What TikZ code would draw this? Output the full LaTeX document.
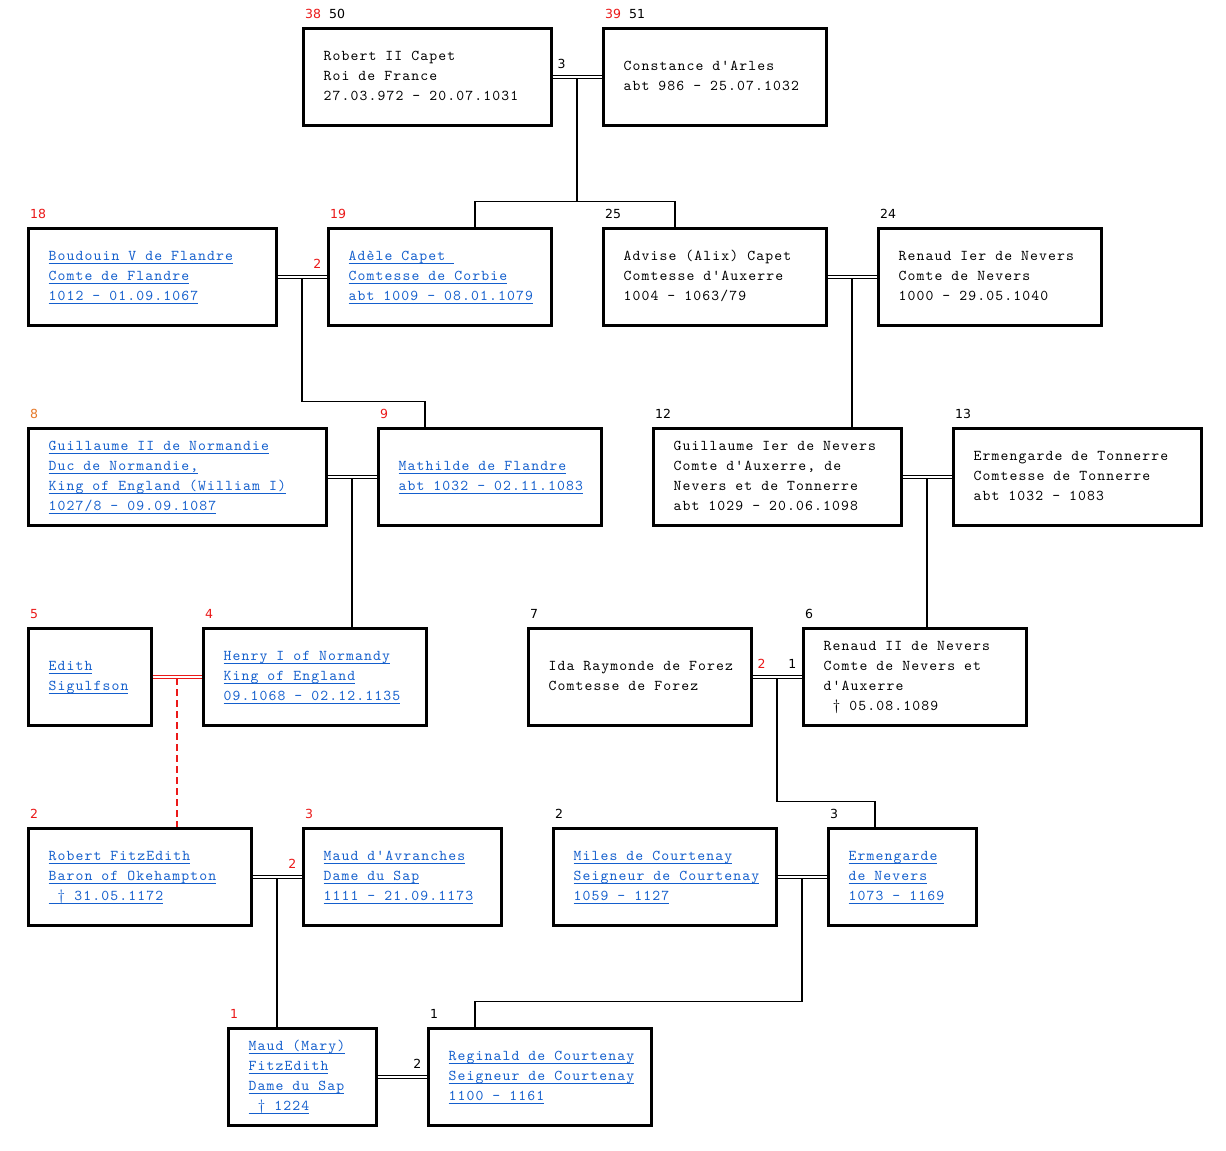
\documentclass[tikz,border=0pt]{standalone}
\usepackage{fontspec}
\newfontfamily\boxfont[LetterSpace=7.5]{lmmono10-regular.otf}
\newfontfamily\numfont{DejaVu Sans}
\definecolor{LinkBlue}{RGB}{20,95,205}
\definecolor{NumRed}{RGB}{235,25,25}
\definecolor{NumOrange}{RGB}{230,120,40}
\usetikzlibrary{calc}
\newcommand\pl[1]{\mbox{\spaceskip=9pt\relax\strut#1}}
\newcommand\lk[1]{\setbox0\hbox{\spaceskip=9pt\relax#1}\mbox{\strut\rlap{\color{LinkBlue}\copy0}\color{LinkBlue}\rule[-3.5pt]{\wd0}{0.9pt}}}
\newcommand\rn[1]{\textcolor{NumRed}{#1}}
\newcommand\on[1]{\textcolor{NumOrange}{#1}}
\tikzset{
  person/.style={draw, line width=3pt, rectangle, anchor=north west, align=left,
    inner xsep=20.5pt, inner ysep=0pt, minimum height=97pt,
    font=\boxfont\fontsize{15}{20}\selectfont},
  lbl/.style={font=\numfont\fontsize{12.5}{13}\selectfont, inner sep=0pt, anchor=base west},
  num/.style={font=\numfont\fontsize{12.5}{13}\selectfont, inner sep=0pt},
  wed/.style={double, double distance=2pt, line width=1pt},
  stem/.style={line width=1.6pt}
}
\begin{document}
\begin{tikzpicture}[x=1pt,y=-1pt]
  \path[fill=white,use as bounding box] (0,0) rectangle (1226,1151);
  % ancestors, top row
  \node[person, text width=207pt] (robert) at (301.5,26.5)
    {\pl{Robert II Capet}\\\pl{Roi de France}\\\pl{27.03.972 - 20.07.1031}};
  \node[person, text width=182pt] (constance) at (601.5,26.5)
    {\pl{Constance d'Arles}\\\pl{abt 986 - 25.07.1032}};
  % second row
  \node[person, text width=207pt] (boudouin) at (26.5,226.5)
    {\lk{Boudouin V de Flandre}\\\lk{Comte de Flandre}\\\lk{1012 - 01.09.1067}};
  \node[person, text width=182pt] (adele) at (326.5,226.5)
    {\lk{Adèle Capet }\\\lk{Comtesse de Corbie}\\\lk{abt 1009 - 08.01.1079}};
  \node[person, text width=182pt] (advise) at (601.5,226.5)
    {\pl{Advise (Alix) Capet}\\\pl{Comtesse d'Auxerre}\\\pl{1004 - 1063/79}};
  \node[person, text width=182pt] (renaud1) at (876.5,226.5)
    {\pl{Renaud Ier de Nevers}\\\pl{Comte de Nevers}\\\pl{1000 - 29.05.1040}};
  % third row
  \node[person, text width=257pt] (guill2) at (26.5,426.5)
    {\lk{Guillaume II de Normandie}\\\lk{Duc de Normandie,}\\\lk{King of England (William I)}\\\lk{1027/8 - 09.09.1087}};
  \node[person, text width=182pt] (mathilde) at (376.5,426.5)
    {\lk{Mathilde de Flandre}\\\lk{abt 1032 - 02.11.1083}};
  \node[person, text width=207pt] (guill1) at (651.5,426.5)
    {\pl{Guillaume Ier de Nevers}\\\pl{Comte d'Auxerre, de}\\\pl{Nevers et de Tonnerre}\\\pl{abt 1029 - 20.06.1098}};
  \node[person, text width=207pt] (ermtonn) at (951.5,426.5)
    {\pl{Ermengarde de Tonnerre}\\\pl{Comtesse de Tonnerre}\\\pl{abt 1032 - 1083}};
  % fourth row
  \node[person, text width=82pt] (edith) at (26.5,626.5)
    {\lk{Edith}\\\lk{Sigulfson}};
  \node[person, text width=182pt] (henry) at (201.5,626.5)
    {\lk{Henry I of Normandy}\\\lk{King of England}\\\lk{09.1068 - 02.12.1135}};
  \node[person, text width=182pt] (ida) at (526.5,626.5)
    {\pl{Ida Raymonde de Forez}\\\pl{Comtesse de Forez}};
  \node[person, text width=182pt] (renaud2) at (801.5,626.5)
    {\pl{Renaud II de Nevers}\\\pl{Comte de Nevers et}\\\pl{d'Auxerre}\\\pl{\ † 05.08.1089}};
  % fifth row
  \node[person, text width=182pt] (robfitz) at (26.5,826.5)
    {\lk{Robert FitzEdith}\\\lk{Baron of Okehampton}\\\lk{\ † 31.05.1172}};
  \node[person, text width=157pt] (maudavr) at (301.5,826.5)
    {\lk{Maud d'Avranches}\\\lk{Dame du Sap}\\\lk{1111 - 21.09.1173}};
  \node[person, text width=182pt] (miles) at (551.5,826.5)
    {\lk{Miles de Courtenay}\\\lk{Seigneur de Courtenay}\\\lk{1059 - 1127}};
  \node[person, text width=107pt] (ermnev) at (826.5,826.5)
    {\lk{Ermengarde}\\\lk{de Nevers}\\\lk{1073 - 1169}};
  % bottom row
  \node[person, text width=107pt] (maudmary) at (226.5,1026.5)
    {\lk{Maud (Mary)}\\\lk{FitzEdith}\\\lk{Dame du Sap}\\\lk{\ † 1224}};
  \node[person, text width=182pt] (reginald) at (426.5,1026.5)
    {\lk{Reginald de Courtenay}\\\lk{Seigneur de Courtenay}\\\lk{1100 - 1161}};

  % numbers above the boxes
  \foreach \p/\t in {robert/{\rn{38}\hspace{8pt}50}, constance/{\rn{39}\hspace{8pt}51}, boudouin/\rn{18},
      adele/\rn{19}, advise/25, renaud1/24, guill2/\on{8}, mathilde/\rn{9},
      guill1/12, ermtonn/13, edith/\rn{5}, henry/\rn{4}, ida/7, renaud2/6,
      robfitz/\rn{2}, maudavr/\rn{3}, miles/2, ermnev/3, maudmary/\rn{1}, reginald/1}
    \node[lbl] (n-\p) at ([xshift=3.5pt,yshift=8.5pt]\p.north west) {\t};

  % marriages
  \draw[wed] (robert) -- (constance);
  \draw[wed] (boudouin) -- (adele);
  \draw[wed] (advise) -- (renaud1);
  \draw[wed] (guill2) -- (mathilde);
  \draw[wed] (guill1) -- (ermtonn);
  \draw[wed, NumRed] (edith) -- (henry);
  \draw[wed] (ida) -- (renaud2);
  \draw[wed] (robfitz) -- (maudavr);
  \draw[wed] (miles) -- (ermnev);
  \draw[wed] (maudmary) -- (reginald);

  \node[num, anchor=base west] (k1) at ([xshift=5pt,yshift=8pt]robert.east) {3};
  \node[num, anchor=base east, text=NumRed] (k2) at ([xshift=-5pt,yshift=8pt]adele.west) {2};
  \node[num, anchor=base west, text=NumRed] (k3) at ([xshift=5pt,yshift=8pt]ida.east) {2};
  \node[num, anchor=base east] (k4) at ([xshift=-5pt,yshift=8pt]renaud2.west) {1};
  \node[num, anchor=base east, text=NumRed] (k5) at ([xshift=-5pt,yshift=8pt]maudavr.west) {2};
  \node[num, anchor=base east] (k6) at ([xshift=-5pt,yshift=8pt]reginald.west) {2};

  \coordinate (m1) at ($(robert.east)!.5!(constance.west)$);
  \coordinate (m2) at ($(boudouin.east)!.5!(adele.west)$);
  \coordinate (m3) at ($(advise.east)!.5!(renaud1.west)$);
  \coordinate (m4) at ($(guill2.east)!.5!(mathilde.west)$);
  \coordinate (m5) at ($(guill1.east)!.5!(ermtonn.west)$);
  \coordinate (m6) at ($(edith.east)!.5!(henry.west)$);
  \coordinate (m7) at ($(ida.east)!.5!(renaud2.west)$);
  \coordinate (m8) at ($(robfitz.east)!.5!(maudavr.west)$);
  \coordinate (m9) at ($(miles.east)!.5!(ermnev.west)$);

  % where the children hang
  \coordinate (c-adele) at ([xshift=148.5pt]adele.north west);
  \coordinate (c-advise) at ([xshift=73.5pt]advise.north west);
  \coordinate (c-mathilde) at ([xshift=48.5pt]mathilde.north west);
  \coordinate (c-guill1) at ([xshift=198.5pt]guill1.north west);
  \coordinate (c-henry) at ([xshift=148.5pt]henry.north west);
  \coordinate (c-renaud2) at ([xshift=123.5pt]renaud2.north west);
  \coordinate (c-robfitz) at ([xshift=148.5pt]robfitz.north west);
  \coordinate (c-ermnev) at ([xshift=48.5pt]ermnev.north west);
  \coordinate (c-maudmary) at ([xshift=48.5pt]maudmary.north west);
  \coordinate (c-reginald) at ([xshift=48.5pt]reginald.north west);

  % descent lines
  \draw[stem] ([yshift=-1.5pt]m1) |- ([yshift=25pt]c-adele) -- (c-adele);
  \draw[stem] ([yshift=-1.5pt]m1) |- ([yshift=25pt]c-advise) -- (c-advise);
  \draw[stem] ([yshift=-1.5pt]m2) |- ([yshift=25pt]c-mathilde) -- (c-mathilde);
  \draw[stem] ([yshift=-1.5pt]m3) -- (m3 |- c-guill1);
  \draw[stem] ([yshift=-1.5pt]m4) -- (m4 |- c-henry);
  \draw[stem] ([yshift=-1.5pt]m5) -- (m5 |- c-renaud2);
  \draw[stem, NumRed, dash pattern=on 7pt off 4pt] ([yshift=-1.5pt]m6) -- (m6 |- c-robfitz);
  \draw[stem] ([yshift=-1.5pt]m7) |- ([yshift=25pt]c-ermnev) -- (c-ermnev);
  \draw[stem] ([yshift=-1.5pt]m8) -- (m8 |- c-maudmary);
  \draw[stem] ([yshift=-1.5pt]m9) |- ([yshift=25pt]c-reginald) -- (c-reginald);
\end{tikzpicture}
\end{document}
